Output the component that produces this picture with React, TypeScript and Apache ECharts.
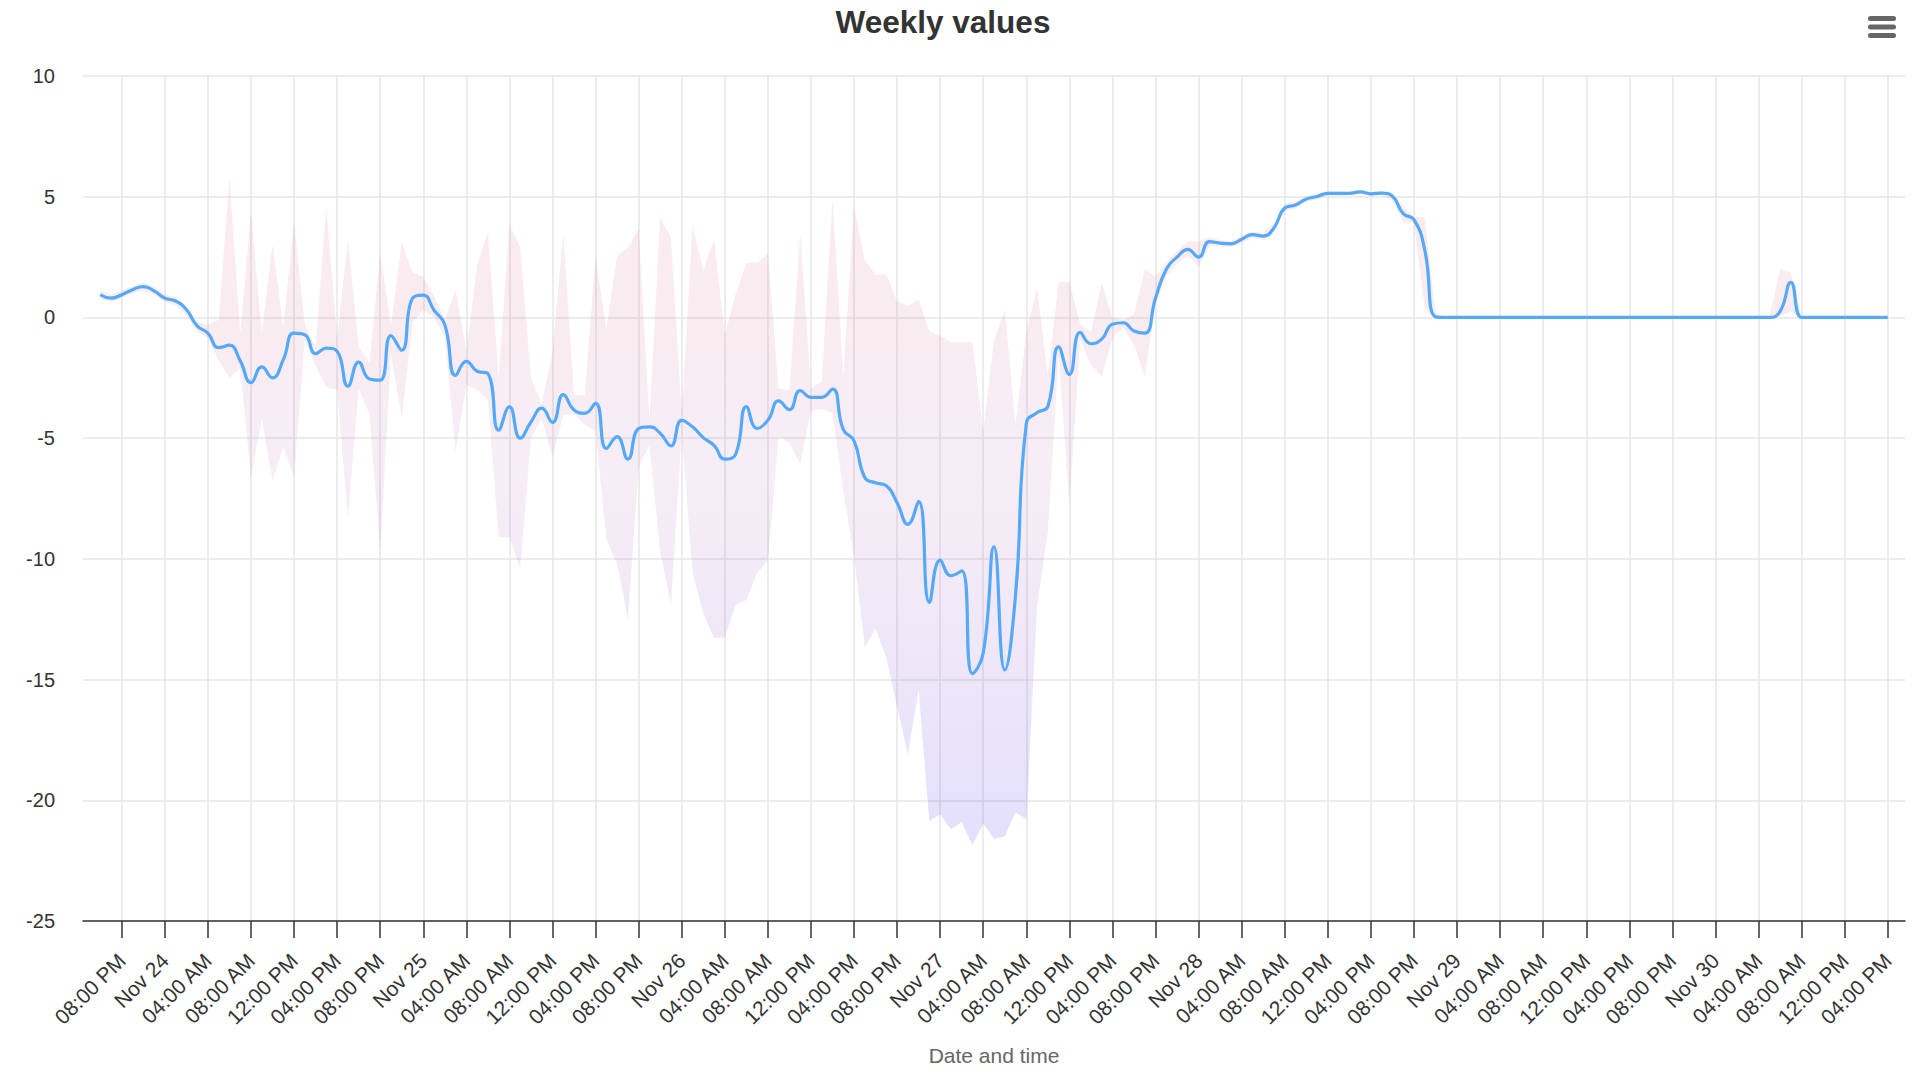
import React, { useEffect, useRef } from 'react';
import * as echarts from 'echarts';

// Hourly samples, starting Nov 23 18:00 (hour -2 relative to Nov 23 20:00) through Nov 30 16:00.
const FIRST_HOUR = -2;

const midValues: number[] = [
  0.94, 0.8, 0.94, 1.15, 1.28, 1.1, 0.8, 0.68, 0.33, -0.35,
  -0.65, -1.25, -1.15, -1.8, -2.7, -2.05, -2.5, -1.75, -0.65, -0.72,
  -1.5, -1.27, -1.4, -2.85, -1.85, -2.55, -2.6, -0.75, -1.36, 0.79,
  0.92, 0.3, -0.3, -2.4, -1.82, -2.23, -2.33, -4.67, -3.7, -5.0,
  -4.33, -3.76, -4.35, -3.2, -3.83, -3.97, -3.56, -5.43, -4.94, -5.87,
  -4.6, -4.53, -4.8, -5.32, -4.26, -4.53, -4.98, -5.3, -5.87, -5.68,
  -3.69, -4.6, -4.26, -3.46, -3.82, -3.03, -3.31, -3.31, -2.97, -4.64,
  -5.11, -6.63, -6.85, -6.97, -7.68, -8.57, -7.62, -11.8, -10.05, -10.7,
  -10.5, -14.75, -13.9, -9.5, -14.6, -11.5, -4.4, -3.94, -3.69, -1.22,
  -2.36, -0.62, -1.09, -0.9, -0.28, -0.22, -0.56, -0.65, 0.8, 2.0,
  2.5, 2.82, 2.5, 3.14, 3.08, 3.05, 3.24, 3.43, 3.37, 3.71,
  4.53, 4.66, 4.9, 5.01, 5.14, 5.14, 5.14, 5.2, 5.12, 5.15,
  5.02, 4.3, 4.05, 2.8, 0.03, 0, 0, 0, 0, 0,
  0, 0, 0, 0, 0, 0, 0, 0, 0, 0,
  0, 0, 0, 0, 0, 0, 0, 0, 0, 0,
  0, 0, 0, 0, 0, 0, 0.25, 1.45, 0, 0,
  0, 0, 0, 0, 0, 0, 0,
];

const lowValues: number[] = [
  0.75, 0.65, 0.8, 1.0, 1.1, 0.95, 0.65, 0.5, 0.1, -0.6,
  -0.85, -1.8, -2.5, -2.1, -6.67, -4.2, -6.75, -5.4, -6.6, -0.9,
  -2.0, -2.9, -3.0, -8.25, -2.95, -4.0, -9.7, -1.5, -4.2, -0.2,
  0.3, 0.0, -0.8, -5.56, -2.8, -3.0, -3.4, -9.1, -9.1, -10.4,
  -5.0, -4.2, -5.77, -4.05, -4.0, -4.46, -4.7, -9.2, -10.2, -12.5,
  -6.2, -5.3, -9.7, -11.9, -4.8, -10.55, -12.25, -13.27, -13.27, -11.9,
  -11.7, -10.6, -10.05, -4.92, -5.2, -6.06, -3.88, -3.79, -3.94, -7.2,
  -9.86, -13.65, -12.9, -14.1, -16.1, -18.1, -15.45, -20.86, -20.58, -21.2,
  -20.9, -21.85, -20.96, -21.6, -21.5, -20.5, -20.8, -11.95, -8.9, -1.5,
  -7.77, -0.94, -1.98, -2.46, -0.84, -0.41, -1.13, -2.46, 0.58, 1.72,
  2.2, 2.57, 2.1, 2.95, 2.95, 2.92, 3.1, 3.3, 3.22, 3.55,
  4.4, 4.52, 4.78, 4.9, 5.05, 5.06, 5.06, 5.12, 5.04, 5.06,
  4.85, 3.95, 3.9, 0.4, 0, 0, 0, 0, 0, 0,
  0, 0, 0, 0, 0, 0, 0, 0, 0, 0,
  0, 0, 0, 0, 0, 0, 0, 0, 0, 0,
  0, 0, 0, 0, 0, 0, 0.05, 0.25, 0, 0,
  0, 0, 0, 0, 0, 0, 0,
];

const highValues: number[] = [
  1.1, 0.95, 1.1, 1.3, 1.45, 1.25, 0.95, 0.85, 0.45, -0.2,
  -0.3, -0.1, 5.8, -0.65, 4.35, -0.65, 3.0, -0.4, 3.95, -0.3,
  -1.2, 4.55, -0.9, 3.25, -1.2, -1.9, 2.7, -0.3, 3.1, 1.87,
  1.67, 0.9, -0.1, 1.13, -1.4, 2.15, 3.53, -2.5, 3.87, 2.9,
  -2.5, -3.6, -1.4, 3.46, -3.2, -3.22, 2.56, -0.5, 2.56, 2.9,
  3.67, -4.3, 4.14, 3.3, -4.0, 3.8, 1.92, 3.24, -0.75, 0.96,
  2.25, 2.25, 2.63, -2.93, -3.03, 3.52, -2.93, -2.65, 4.94, -2.46,
  4.56, 2.38, 1.76, 1.8, 0.67, 0.48, 0.73, -0.56, -0.75, -1.03,
  -1.03, -1.03, -4.73, -0.94, 0.3, -4.45, -0.6, 1.24, -2.46, 1.47,
  1.47, -0.27, -0.62, 1.43, 0.0, -0.1, 0.1, 2.0, 1.68, 2.29,
  2.76, 3.14, 3.14, 3.33, 3.2, 3.18, 3.38, 3.56, 3.5, 3.9,
  4.7, 4.8, 5.02, 5.12, 5.22, 5.22, 5.22, 5.28, 5.2, 5.24,
  5.15, 4.6, 4.15, 4.15, 0.2, 0, 0, 0, 0, 0,
  0, 0, 0, 0, 0, 0, 0, 0, 0, 0,
  0, 0, 0, 0, 0, 0, 0, 0, 0, 0,
  0, 0, 0, 0, 0, 0, 2.0, 1.85, 0.05, 0,
  0, 0, 0, 0, 0, 0, 0,
];

// Tick labels every 4 hours, starting at Nov 23 08:00 PM.
const tickLabels: string[] = [
  '08:00 PM', 'Nov 24', '04:00 AM', '08:00 AM', '12:00 PM', '04:00 PM', '08:00 PM',
  'Nov 25', '04:00 AM', '08:00 AM', '12:00 PM', '04:00 PM', '08:00 PM',
  'Nov 26', '04:00 AM', '08:00 AM', '12:00 PM', '04:00 PM', '08:00 PM',
  'Nov 27', '04:00 AM', '08:00 AM', '12:00 PM', '04:00 PM', '08:00 PM',
  'Nov 28', '04:00 AM', '08:00 AM', '12:00 PM', '04:00 PM', '08:00 PM',
  'Nov 29', '04:00 AM', '08:00 AM', '12:00 PM', '04:00 PM', '08:00 PM',
  'Nov 30', '04:00 AM', '08:00 AM', '12:00 PM', '04:00 PM',
];
const TICK_STEP_HOURS = 4;

const yTicks = { min: -25, max: 10, interval: 5 };

const FONT = "'Liberation Sans', Arial, Helvetica, sans-serif";

function buildOption() {
  const hours = midValues.map((_, i) => FIRST_HOUR + i);
  const tickHours = tickLabels.map((_, i) => i * TICK_STEP_HOURS);
  const xMin = hours[0] - 1.6;
  const xMax = hours[hours.length - 1] + 1.6;

  const bandData = hours.map((h, i) => [h, lowValues[i], highValues[i]]);
  const midData = hours.map((h, i) => [h, midValues[i]]);

  const bandFill = new echarts.graphic.LinearGradient(0, 0, 0, 1, [
    { offset: 0, color: 'rgba(225, 100, 115, 0.13)' },
    { offset: 0.45, color: 'rgba(180, 105, 175, 0.12)' },
    { offset: 1, color: 'rgba(90, 70, 240, 0.17)' },
  ]);

  return {
    animation: false,
    backgroundColor: '#ffffff',
    textStyle: { fontFamily: FONT },
    title: {
      text: 'Weekly values',
      left: 938,
      textAlign: 'center',
      top: 1,
      textStyle: { fontSize: 31.5, fontWeight: 'bold', color: '#333333', fontFamily: FONT },
    },
    grid: { left: 83, right: 15, top: 76, bottom: 154, containLabel: false, outerBoundsMode: 'none' },
    xAxis: {
      type: 'value',
      min: xMin,
      max: xMax,
      name: 'Date and time',
      nameLocation: 'middle',
      nameGap: 124,
      nameTextStyle: { fontSize: 21, color: '#666666', fontFamily: FONT },
      axisLine: { show: true, onZero: false, lineStyle: { color: '#333333', width: 1.5 } },
      axisTick: {
        show: true,
        length: 17,
        customValues: tickHours,
        lineStyle: { color: '#333333', width: 1.5 },
      },
      axisLabel: {
        customValues: tickHours,
        rotate: 45,
        margin: 36,
        fontSize: 21,
        color: '#333333',
        fontFamily: FONT,
        formatter: (v: number) => tickLabels[Math.round(v / TICK_STEP_HOURS)] ?? '',
      },
      splitLine: { show: true, lineStyle: { color: '#e6e6e6', width: 1.5 } },
    },
    yAxis: {
      type: 'value',
      min: yTicks.min,
      max: yTicks.max,
      interval: yTicks.interval,
      axisLine: { show: false },
      axisTick: { show: false },
      axisLabel: { fontSize: 20, color: '#333333', margin: 28, fontFamily: FONT },
      splitLine: { show: true, lineStyle: { color: '#e6e6e6', width: 1.5 } },
    },
    series: [
      {
        name: 'Range',
        type: 'custom',
        data: bandData,
        encode: { x: 0, y: [1, 2] },
        silent: true,
        z: 2,
        renderItem: (params: any, api: any) => {
          if (params.dataIndex !== 0) return null;
          const upper = hours.map((h, i) => api.coord([h, highValues[i]]));
          const lower = hours.map((h, i) => api.coord([h, lowValues[i]])).reverse();
          return {
            type: 'polygon',
            shape: { points: upper.concat(lower) },
            style: { fill: bandFill, stroke: null },
          };
        },
      },
      {
        name: 'Value',
        type: 'line',
        data: midData,
        smooth: 0.5,
        symbol: 'none',
        lineStyle: { color: '#55a9f7', width: 3.2 },
        itemStyle: { color: '#55a9f7' },
        z: 3,
      },
    ],
    graphic: [
      {
        type: 'group',
        left: 1868,
        top: 16,
        children: [
          { type: 'rect', shape: { x: 0, y: 0, width: 28, height: 5, r: 2.5 }, style: { fill: '#666666' } },
          { type: 'rect', shape: { x: 0, y: 8.5, width: 28, height: 5, r: 2.5 }, style: { fill: '#666666' } },
          { type: 'rect', shape: { x: 0, y: 17, width: 28, height: 5, r: 2.5 }, style: { fill: '#666666' } },
        ],
      },
    ],
  };
}

export default function App() {
  const ref = useRef<HTMLDivElement>(null);
  useEffect(() => {
    document.body.style.margin = '0';
    document.body.style.overflow = 'hidden';
    if (!ref.current) return;
    const chart = echarts.init(ref.current, null, { renderer: 'svg' });
    chart.setOption(buildOption() as any);
    return () => {
      chart.dispose();
    };
  }, []);
  return <div ref={ref} style={{ width: 1920, height: 1075 }} />;
}
